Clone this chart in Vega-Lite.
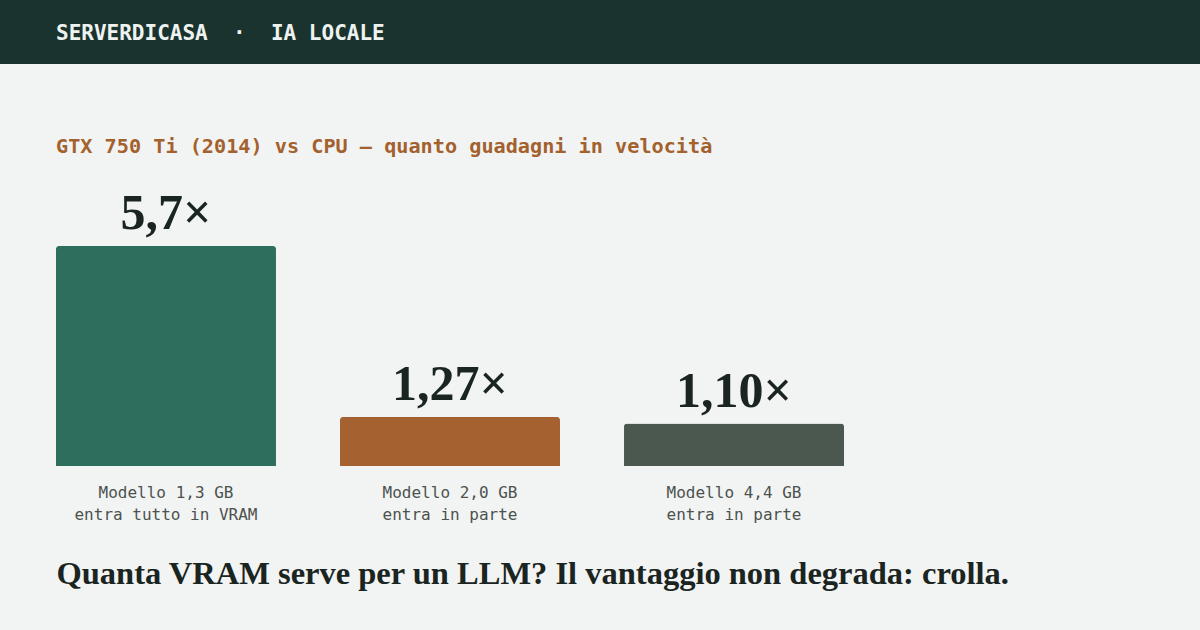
{
  "$schema": "https://vega.github.io/schema/vega-lite/v6.json",
  "description": "GTX 750 Ti vs CPU speed-up by model size",
  "background": "#f2f4f3",
  "padding": {"left": 0, "top": 0, "right": 0, "bottom": 60},
  "spacing": 72,
  "config": {"view": {"stroke": null}},
  "vconcat": [
    {
      "width": 1200,
      "height": 64,
      "view": {"fill": "#1a332e", "stroke": null},
      "data": {"values": [{"t": "SERVERDICASA\u00a0\u00a0·\u00a0\u00a0IA LOCALE"}]},
      "mark": {
        "type": "text",
        "align": "left",
        "baseline": "middle",
        "x": 56,
        "y": 34,
        "font": "DejaVu Sans Mono",
        "fontSize": 21,
        "fontWeight": "bold",
        "color": "#eef3f1"
      },
      "encoding": {"text": {"field": "t"}}
    },
    {
      "width": 1200,
      "height": 296,
      "title": {
        "text": "GTX 750 Ti (2014) vs CPU — quanto guadagni in velocità",
        "anchor": "start",
        "dx": 56,
        "offset": 13,
        "font": "DejaVu Sans Mono",
        "fontSize": 20.2,
        "fontWeight": "bold",
        "color": "#a3612e"
      },
      "data": {
        "values": [
          {"cat": "Modello 1,3 GB|entra tutto in VRAM", "v": 5.7, "lbl": "5,7×"},
          {"cat": "Modello 2,0 GB|entra in parte", "v": 1.27, "lbl": "1,27×"},
          {"cat": "Modello 4,4 GB|entra in parte", "v": 1.10, "lbl": "1,10×"}
        ]
      },
      "encoding": {
        "x": {
          "field": "cat",
          "type": "nominal",
          "sort": null,
          "scale": {"range": [56, 844], "paddingInner": 0.2254, "paddingOuter": 0},
          "axis": {
            "title": "Quanta VRAM serve per un LLM? Il vantaggio non degrada: crolla.",
            "titleFont": "Liberation Serif",
            "titleFontSize": 32.5,
            "titleFontWeight": "bold",
            "titleColor": "#1a2421",
            "titleAnchor": "start",
            "titleAlign": "left",
            "titlePadding": 35,
            "labelExpr": "split(datum.label, '|')",
            "labelFont": "DejaVu Sans Mono",
            "labelFontSize": 16,
            "labelColor": "#4b524f",
            "labelLineHeight": 22,
            "labelPadding": 18,
            "labelAngle": 0,
            "labelLimit": 400,
            "ticks": false,
            "domain": false
          }
        },
        "y": {
          "field": "v",
          "type": "quantitative",
          "scale": {"domain": [0, 7.67]},
          "axis": null
        }
      },
      "layer": [
        {
          "mark": {"type": "bar", "cornerRadiusTopLeft": 3, "cornerRadiusTopRight": 3},
          "encoding": {
            "color": {
              "field": "cat",
              "type": "nominal",
              "scale": {
                "domain": ["Modello 1,3 GB|entra tutto in VRAM", "Modello 2,0 GB|entra in parte", "Modello 4,4 GB|entra in parte"],
                "range": ["#2e6e5c", "#a5612f", "#4b5850"]
              },
              "legend": null
            }
          }
        },
        {
          "mark": {
            "type": "text",
            "baseline": "alphabetic",
            "align": "center",
            "dy": -17,
            "font": "Liberation Serif",
            "fontSize": 50,
            "fontWeight": "bold",
            "color": "#1a2421"
          },
          "encoding": {"text": {"field": "lbl"}}
        }
      ]
    }
  ]
}
